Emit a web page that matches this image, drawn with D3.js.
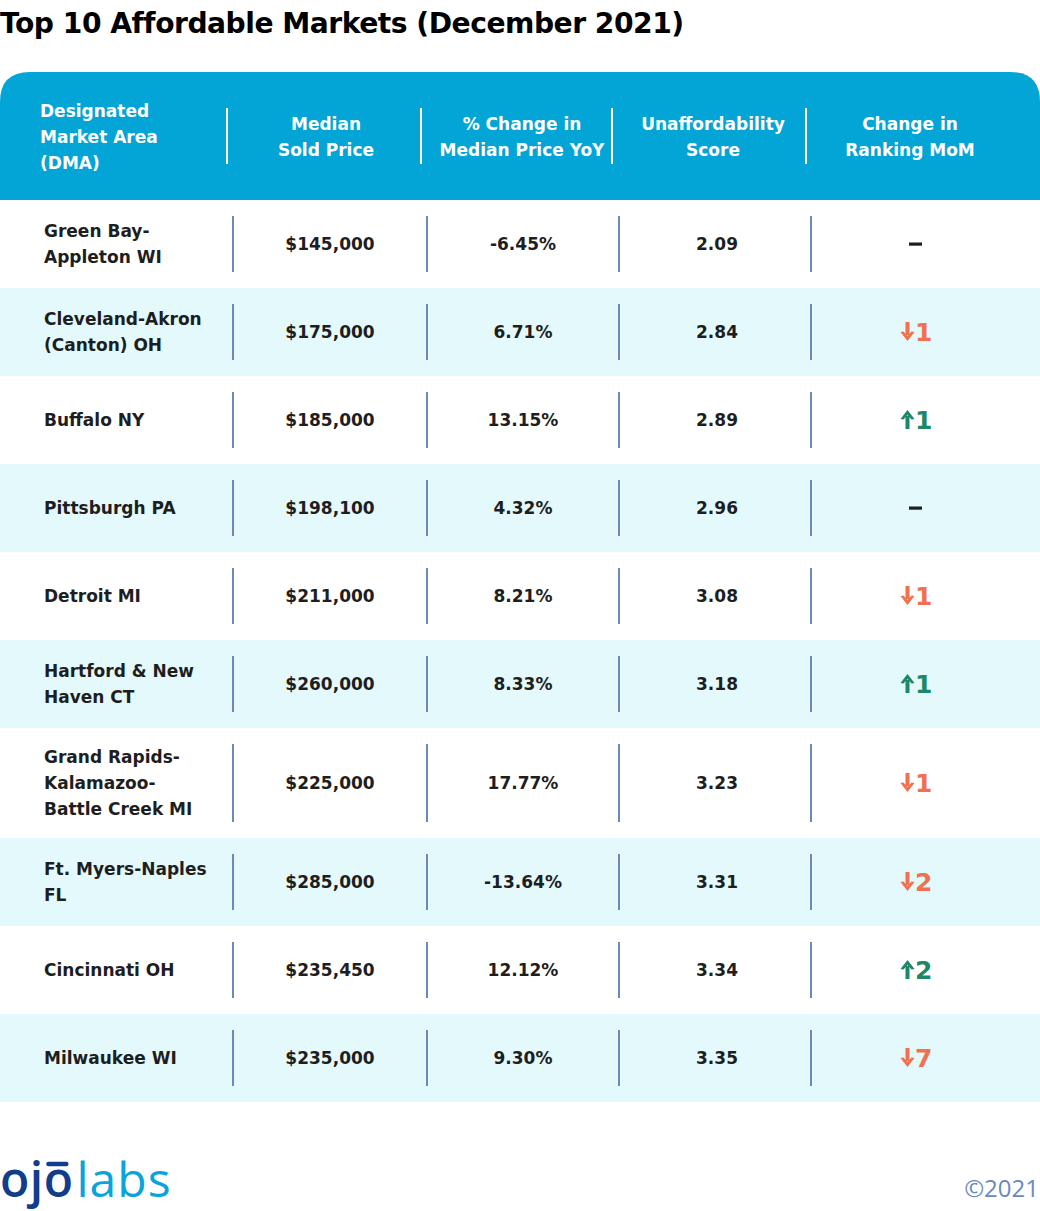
<!DOCTYPE html>
<html><head><meta charset="utf-8">
<script src="https://cdn.jsdelivr.net/npm/d3@7"></script>
<style>
html,body{margin:0;padding:0;background:#fff;}
svg{display:block;}
</style></head>
<body>
<script>
// ---- data ----
const title = "Top 10 Affordable Markets (December 2021)";
const headers = [
  ["Designated","Market Area","(DMA)"],
  ["Median","Sold Price"],
  ["% Change in","Median Price YoY"],
  ["Unaffordability","Score"],
  ["Change in","Ranking MoM"]
];
const markets = [
  ["Green Bay-","Appleton WI"],
  ["Cleveland-Akron","(Canton) OH"],
  ["Buffalo NY"],
  ["Pittsburgh PA"],
  ["Detroit MI"],
  ["Hartford & New","Haven CT"],
  ["Grand Rapids-","Kalamazoo-","Battle Creek MI"],
  ["Ft. Myers-Naples","FL"],
  ["Cincinnati OH"],
  ["Milwaukee WI"]
];
const medianPrices = [145000,175000,185000,198100,211000,260000,225000,285000,235450,235000];
const yoyChange = [-6.45,6.71,13.15,4.32,8.21,8.33,17.77,-13.64,12.12,9.30];
const scores = [2.09,2.84,2.89,2.96,3.08,3.18,3.23,3.31,3.34,3.35];
const rankChange = [0,-1,1,0,-1,1,-1,-2,2,-7];

// ---- layout ----
const W = 1040, H = 1211;
const FONT = "'DejaVu Sans', 'Open Sans', sans-serif";
const svg = d3.select("body").append("svg").attr("width", W).attr("height", H);

const locale = d3.formatLocale({decimal: ".", thousands: ",", grouping: [3], currency: ["$", ""], minus: "-"});

const titleT = svg.append("text").attr("x", 0).attr("y", 33)
  .attr("font-family", FONT).attr("font-weight", 700).attr("font-size", 27)
  .attr("fill", "#000").attr("letter-spacing", -0.5).text(title);
const tw = titleT.node().getComputedTextLength();
titleT.attr("font-size", 27 * 683 / tw);

// header
const headTop = 72, headBot = 200, R = 30;
svg.append("path")
  .attr("d", `M0,${headBot} L0,${headTop+R} Q0,${headTop} ${R},${headTop} L${W-R},${headTop} Q${W},${headTop} ${W},${headTop+R} L${W},${headBot} Z`)
  .attr("fill", "#02A5D6");

const colCenterHead = [null, 326, 522, 713, 910];
const headDiv = [227, 421, 612, 806];
const colCenterBody = [null, 330, 523, 717, 916];
const bodyDiv = [233, 427, 619, 811];
const FS = 17;

headDiv.forEach(x => svg.append("line").attr("x1", x).attr("x2", x).attr("y1", 108).attr("y2", 164)
  .attr("stroke", "#fff").attr("stroke-width", 2));

headers.forEach((lines, i) => {
  const t = svg.append("text").attr("font-family", FONT).attr("font-weight", 700)
    .attr("font-size", FS).attr("fill", "#fff");
  const lh = 26;
  const y0 = 137 - (lines.length - 1) * lh / 2 + 6;
  t.attr("text-anchor", i === 0 ? "start" : "middle");
  lines.forEach((l, k) => t.append("tspan").attr("x", i === 0 ? 40 : colCenterHead[i]).attr("y", y0 + k * lh).text(l));
});

// rows
const rowH = markets.map(m => Math.max(88, m.length * 22 + 44));
const rowTop = [];
rowH.reduce((acc, h, i) => { rowTop[i] = acc; return acc + h; }, headBot);

const fmtPrice = locale.format("$,");
const fmtPct = v => locale.format(".2f")(v) + "%";
const fmtScore = locale.format(".2f");

const rows = svg.selectAll("g.row").data(markets).join("g").attr("class", "row")
  .attr("transform", (d, i) => `translate(0,${rowTop[i]})`);

rows.append("rect").attr("x", 0).attr("y", 0).attr("width", W)
  .attr("height", (d, i) => rowH[i]).attr("fill", (d, i) => i % 2 ? "#E3F9FC" : "#fff");

rows.each(function(d, i) {
  const g = d3.select(this), h = rowH[i], cy = h / 2;
  bodyDiv.forEach(x => g.append("line").attr("x1", x).attr("x2", x).attr("y1", 16).attr("y2", h - 16)
    .attr("stroke", "#6C89BC").attr("stroke-width", 2));
  const lh = 26;
  const t = g.append("text").attr("font-family", FONT).attr("font-weight", 700)
    .attr("font-size", FS).attr("fill", "#1E1E1E");
  d.forEach((l, k) => t.append("tspan").attr("x", 44).attr("y", cy - (d.length - 1) * lh / 2 + 6 + k * lh).text(l));
  const vals = [fmtPrice(medianPrices[i]), fmtPct(yoyChange[i]), fmtScore(scores[i])];
  vals.forEach((v, j) => g.append("text").attr("x", colCenterBody[j + 1]).attr("y", cy + 6)
    .attr("text-anchor", "middle").attr("font-family", FONT).attr("font-weight", 700)
    .attr("font-size", FS).attr("fill", "#1E1E1E").text(v));
  const c = rankChange[i];
  const cx = colCenterBody[4];
  if (c === 0) {
    g.append("rect").attr("x", cx - 7).attr("y", cy - 1.5).attr("width", 13).attr("height", 3.2)
      .attr("fill", "#1E1E1E");
  } else {
    const col = c > 0 ? "#1E8767" : "#F0704F";
    const ax = cx - 8.5;
    const up = c > 0;
    const top = cy - 10, bot = cy + 9;
    if (up) {
      g.append("rect").attr("x", ax - 2).attr("y", top + 6).attr("width", 4).attr("height", bot - top - 6).attr("fill", col);
      g.append("path").attr("d", `M${ax-7},${top+9} L${ax},${top} L${ax+7},${top+9} L${ax+4},${top+9.5} L${ax},${top+5} L${ax-4},${top+9.5} Z`).attr("fill", col);
    } else {
      g.append("rect").attr("x", ax - 2).attr("y", top).attr("width", 4).attr("height", bot - top - 6).attr("fill", col);
      g.append("path").attr("d", `M${ax-7},${bot-9} L${ax},${bot} L${ax+7},${bot-9} L${ax+4},${bot-9.5} L${ax},${bot-5} L${ax-4},${bot-9.5} Z`).attr("fill", col);
    }
    g.append("text").attr("x", cx - 1).attr("y", cy + 9).attr("text-anchor", "start")
      .attr("font-family", FONT).attr("font-weight", 700).attr("font-size", 25).attr("fill", col)
      .text(Math.abs(c));
  }
});

// footer logo: "ojo" + "labs"
const LOGOF = "'Open Sans', sans-serif";
const ojo = svg.append("text").attr("x", 0).attr("y", 1197)
  .attr("font-family", LOGOF).attr("font-weight", 600).attr("font-size", 48)
  .attr("letter-spacing", 0.5).attr("fill", "#123D8B").text("ojo");
const ojoW = ojo.node().getComputedTextLength();
svg.append("text").attr("x", ojoW + 3).attr("y", 1197)
  .attr("font-family", LOGOF).attr("font-weight", 500).attr("font-size", 48)
  .attr("letter-spacing", 1).attr("fill", "#0AA3DA").text("labs");
// bar above second "o"
let bx0 = 46, bx1 = 73;
try {
  const ext = ojo.node().getExtentOfChar(2);
  bx0 = ext.x + ext.width * 0.16; bx1 = ext.x + ext.width * 0.76;
} catch (e) {}
svg.append("line").attr("x1", bx0).attr("x2", bx1).attr("y1", 1164).attr("y2", 1164)
  .attr("stroke", "#123D8B").attr("stroke-width", 4.5).attr("stroke-linecap", "round");

svg.append("text").attr("x", 1039).attr("y", 1197).attr("text-anchor", "end")
  .attr("font-family", LOGOF).attr("font-weight", 400).attr("font-size", 24)
  .attr("fill", "#6A89BE").text("©2021");
</script>
</body></html>
